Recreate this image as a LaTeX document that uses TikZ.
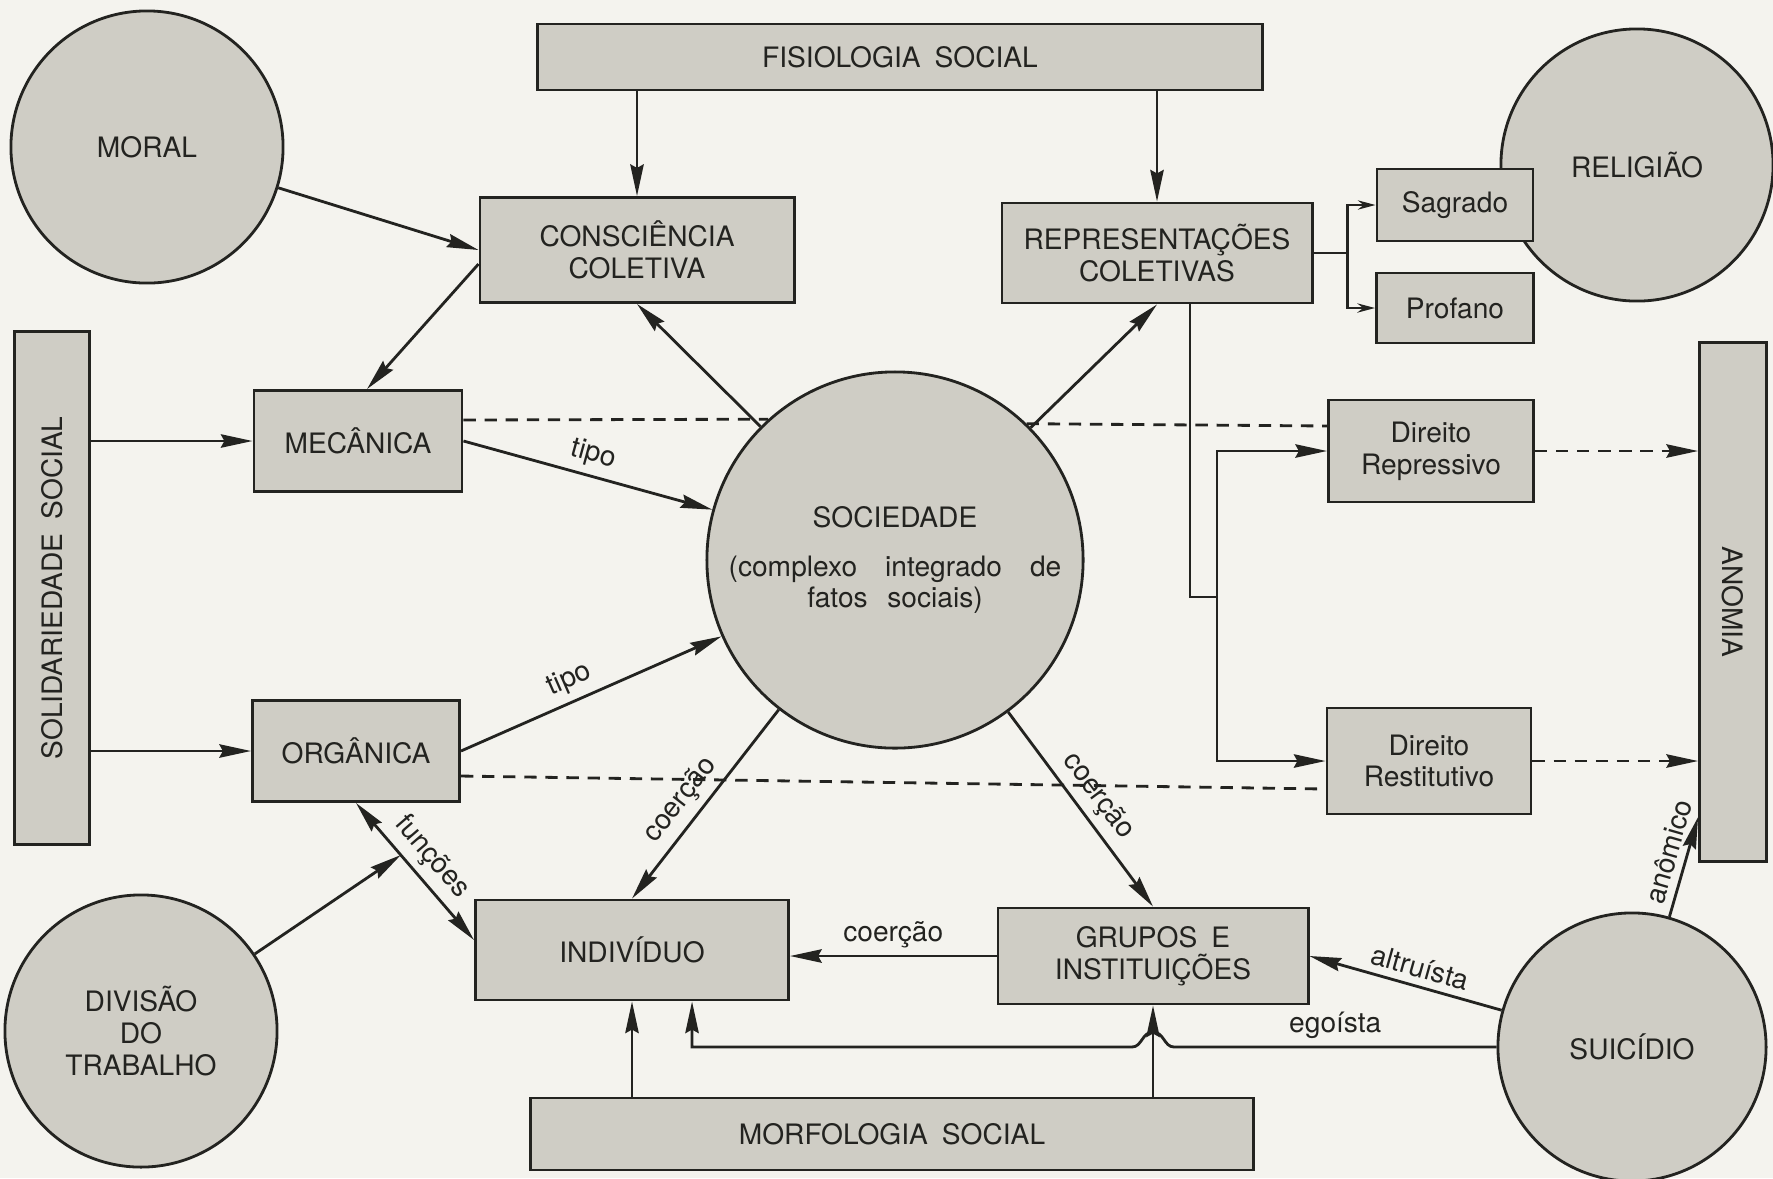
\documentclass[tikz,border=0pt]{standalone}
\usepackage{fontspec}
\setmainfont{TeX Gyre Heros}
\usepackage{graphicx}
\usepackage{tikz}
\usetikzlibrary{arrows.meta}

\definecolor{paper}{RGB}{244,243,238}
\definecolor{shade}{RGB}{207,205,197}
\definecolor{ink}{RGB}{35,35,32}
\newcommand{\boxfont}{\fontsize{8}{9}\selectfont}

\begin{document}
\begin{tikzpicture}[x=0.01cm, y=-0.01cm, line width=0.8pt, color=ink,
        >={Stealth[length=9pt,width=3.8pt,inset=1pt]},
        box/.style={draw=ink, fill=shade, text=ink, rectangle, inner sep=0pt, align=center, font=\boxfont},
        disc/.style={draw=ink, fill=shade, text=ink, circle, inner sep=0pt, align=center, font=\boxfont},
        lab/.style={text=ink, font=\boxfont, inner sep=2pt},
        dashline/.style={dash pattern=on 3.5pt off 2.5pt},
        smalltip/.style={-{Stealth[length=5pt,width=2.6pt]}}]
        \useasboundingbox[fill=paper] (0,0) rectangle (1773,1178);

        \node[disc, minimum size=2.72cm] (moral) at (147,147) {MORAL};
        \node[box, minimum width=7.25cm, minimum height=0.66cm] (fis) at (900,57) {FISIOLOGIA\enspace SOCIAL};
        \node[box, minimum width=3.14cm, minimum height=1.05cm] (cons) at (637,250) {CONSCIÊNCIA\\COLETIVA};
        \node[box, minimum width=3.10cm, minimum height=1.00cm] (rep) at (1157,253) {REPRESENTAÇÕES\\COLETIVAS};
        \node[disc, minimum size=2.72cm] (rel) at (1637,165) {RELIGIÃO};
        \node[box, minimum width=1.56cm, minimum height=0.72cm] (sag) at (1455,205) {Sagrado};
        \node[box, minimum width=1.57cm, minimum height=0.70cm] (prof) at (1455,308) {Profano};
        \node[box, minimum width=0.75cm, minimum height=5.13cm] (solid) at (52,588) {\rotatebox{90}{SOLIDARIEDADE\enspace SOCIAL}};
        \node[box, minimum width=2.08cm, minimum height=1.01cm] (mec) at (358,441) {MECÂNICA};
        \node[disc, minimum size=3.76cm] (soc) at (895,560) {SOCIEDADE\\[5pt](complexo\hspace{1em}integrado\hspace{1em}de\\fatos\hspace{0.7em}sociais)};
        \node[box, minimum width=2.05cm, minimum height=1.02cm] (drep) at (1431,451) {Direito\\Repressivo};
        \node[box, minimum width=0.67cm, minimum height=5.19cm] (anom) at (1733,602) {\rotatebox{-90}{ANOMIA}};
        \node[box, minimum width=2.07cm, minimum height=1.01cm] (org) at (356,751) {ORGÂNICA};
        \node[box, minimum width=2.04cm, minimum height=1.06cm] (drest) at (1429,761) {Direito\\Restitutivo};
        \node[box, minimum width=3.13cm, minimum height=1.00cm] (ind) at (632,950) {INDIVÍDUO};
        \node[box, minimum width=3.10cm, minimum height=0.96cm] (grp) at (1153,956) {GRUPOS\enspace E\\INSTITUIÇÕES};
        \node[disc, minimum size=2.72cm] (div) at (141,1031) {DIVISÃO\\DO\\TRABALHO};
        \node[box, minimum width=7.22cm, minimum height=0.72cm] (morf) at (892,1134) {MORFOLOGIA\enspace SOCIAL};
        \node[disc, minimum size=2.68cm] (sui) at (1632,1047) {SUICÍDIO};

        \path (org.south) -- coordinate[pos=0.38] (fmid) ([yshift=1mm]ind.west);
        \coordinate (br) at ([xshift=3.4mm]rep.east);
        \coordinate (rb) at ([xshift=3.3mm]rep.south);
        \coordinate (dj) at (1217,597);
        \coordinate (hop) at (grp.south |- sui.west);
        \coordinate (egx) at ([xshift=6mm]ind.south);

        \path[->] (cons.north |- fis.south) edge (cons.north)
                  (rep.north |- fis.south) edge (rep.north)
                  (moral) edge (cons.west)
                  ([yshift=-1.4mm]cons.west) edge ([xshift=0.9mm]mec.north)
                  (soc) edge (cons.south)
                  (soc) edge (rep.south)
                  (solid.east |- mec.west) edge (mec.west)
                  (solid.east |- org.west) edge (org.west)
                  (mec.east) edge node[lab, sloped, above] {tipo} (soc)
                  (org.east) edge node[lab, sloped, above, pos=0.45] {tipo} (soc)
                  (soc) edge node[lab, sloped, above, pos=0.55] {coerção} (ind.north)
                  (soc) edge node[lab, sloped, above] {coerção} (grp.north)
                  (grp.west) edge node[lab, above] {coerção} (grp.west -| ind.east)
                  (sui) edge node[lab, sloped, above, pos=0.45] {altruísta} (grp.east)
                  (sui) edge node[lab, sloped, above, pos=0.6] {anômico} ([yshift=4.6mm]anom.south west)
                  (ind.south |- morf.north) edge (ind.south)
                  (grp.south |- morf.north) edge (grp.south)
                  (div) edge (fmid);
        \path[<->] (org.south) edge node[lab, sloped, above] {funções} ([yshift=1mm]ind.west);

        \path[dashline] ([yshift=2.1mm]mec.east) edge (soc.132)
                        (soc.46) edge ([yshift=2.5mm]drep.west)
                        ([yshift=-2.5mm]org.east) edge ([yshift=-2.8mm]drest.west);
        \path[dashline, ->] (drep.east) edge (drep.east -| anom.west)
                            (drest.east) edge (drest.east -| anom.west);

        \draw (rep.east) -- (br);
        \draw[smalltip] (br) |- (sag.west);
        \draw[smalltip] (br) |- (prof.west);
        \draw (rb) |- (dj);
        \draw[->] (dj) |- (drep.west);
        \draw[->] (dj) |- (drest.west);

        \draw[->] (sui.west) -- node[lab, above] {egoísta} ([xshift=2.1mm]hop)
            .. controls ([xshift=1.1mm]hop) and ([xshift=1.1mm,yshift=1.5mm]hop) .. ([yshift=1.5mm]hop)
            .. controls ([xshift=-1.1mm,yshift=1.5mm]hop) and ([xshift=-1.1mm]hop) .. ([xshift=-2.1mm]hop)
            -- (egx |- hop) -- (egx);
\end{tikzpicture}
\end{document}
